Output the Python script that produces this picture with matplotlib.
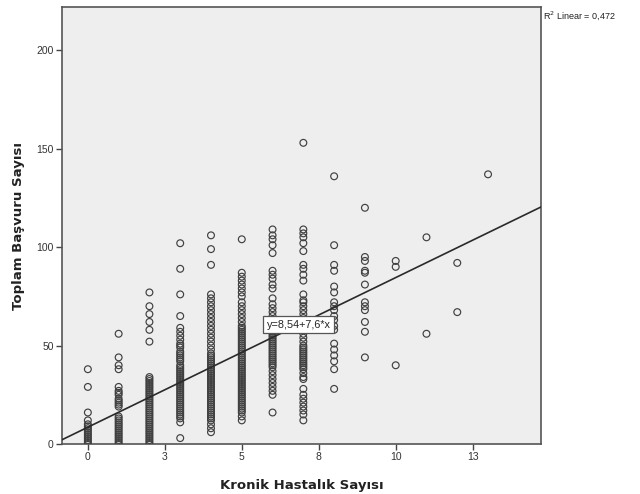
import matplotlib
matplotlib.use("Agg")
import matplotlib.pyplot as plt
import numpy as np

# ---- data ----
col0 = [38, 29, 16, 12, 10, 9, 8, 7, 6, 5, 4, 3, 2, 1, 0]
col1 = [56, 44, 40, 38, 29, 27, 26, 25, 23, 22, 21, 20, 19, 14, 13, 12, 11, 10, 9, 8,
        7, 6, 5, 4, 3, 2, 1, 0]
col2 = [77, 70, 66, 62, 58, 52, 34, 33, 32, 31, 30, 29, 28, 27, 26, 25, 24, 23, 22, 21,
        20, 19, 18, 17, 16, 15, 14, 13, 12, 11, 10, 9, 8, 7, 6, 5, 4, 3, 2, 1, 0]
col3 = [102, 89, 76, 65, 59, 57, 55, 53, 51, 50, 49, 47, 46, 45, 44, 43, 42, 40, 39, 38,
        37, 36, 35, 34, 33, 32, 31, 30, 29, 28, 27, 26, 25, 24, 23, 22, 21, 20, 19, 18,
        17, 16, 15, 14, 13, 11, 3]
col4 = [106, 99, 91, 76, 74, 72, 70, 68, 66, 64, 62, 60, 58, 56, 54, 52, 50, 48, 46, 45,
        44, 43, 42, 41, 40, 39, 38, 37, 36, 35, 34, 33, 32, 31, 30, 29, 28, 27, 26, 25,
        24, 23, 22, 21, 20, 19, 18, 17, 16, 15, 14, 13, 12, 10, 8, 6]
col5 = [104, 87, 85, 83, 81, 79, 77, 75, 72, 70, 68, 66, 64, 62, 60, 59, 58, 57, 56, 55,
        54, 53, 52, 51, 50, 49, 48, 47, 46, 45, 44, 43, 42, 41, 40, 39, 38, 37, 36, 35,
        34, 33, 32, 31, 30, 29, 28, 27, 26, 25, 24, 23, 22, 21, 20, 19, 18, 17, 16, 14, 12]
col6 = [109, 106, 104, 101, 97, 88, 86, 84, 81, 79, 74, 71, 69, 67, 65, 63, 61, 60, 58,
        57, 56, 55, 54, 53, 52, 51, 50, 49, 48, 47, 46, 45, 44, 43, 42, 41, 40, 39, 37,
        35, 33, 31, 29, 27, 25, 16]
col7 = [153, 109, 107, 105, 102, 98, 91, 89, 86, 83, 76, 73, 72, 70, 68, 66, 64, 62, 60,
        58, 56, 54, 52, 50, 49, 48, 47, 46, 45, 44, 43, 42, 41, 40, 39, 38, 36, 34, 33,
        28, 25, 23, 21, 19, 17, 15, 12]
col8 = [136, 101, 91, 88, 80, 77, 72, 70, 68, 65, 63, 60, 58, 51, 48, 45, 42, 38, 28]
col9 = [120, 95, 93, 88, 87, 81, 72, 70, 68, 62, 57, 44]
col10 = [93, 90, 40]
col11 = [105, 56]
col12 = [92, 67]
col13 = [137]
columns = [col0, col1, col2, col3, col4, col5, col6, col7, col8, col9,
           col10, col11, col12, col13]

intercept = 8.54
slope = 7.6
r2_text = "R$^2$ Linear = 0,472"
eq_text = "y=8,54+7,6*x"

xticks = [0, 2.5, 5, 7.5, 10, 12.5]
xticklabels = ["0", "3", "5", "8", "10", "13"]
yticks = [0, 50, 100, 150, 200]

narrow = ["Liberation Sans Narrow", "Liberation Sans"]

# ---- figure ----
fig = plt.figure(figsize=(6.4, 4.94), dpi=100)
fig.patch.set_facecolor("white")
ax = fig.add_axes([62 / 640, 1 - 444 / 494, (541 - 62) / 640, (444 - 7) / 494])
ax.set_facecolor("#eeeeee")

xs, ys = [], []
for i, col in enumerate(columns):
    xs.extend([i] * len(col))
    ys.extend(col)
ax.scatter(xs, ys, s=24, facecolors="none", edgecolors="#404040",
           linewidths=0.85, zorder=3)

xlim = (-0.84, 14.72)
ax.set_xlim(*xlim)
ax.set_ylim(0, 222)
lx = np.array(xlim)
ax.plot(lx, intercept + slope * lx, color="#2a2a2a", lw=1.2, zorder=4)

# equation label
xe = 6.85
ax.text(xe, intercept + slope * xe, eq_text, ha="center", va="center",
        fontsize=7.8, family=narrow, color="#222222", zorder=6,
        bbox=dict(boxstyle="square,pad=0.3", fc="white", ec="#555555", lw=0.9))

fig.text(543 / 640, 1 - 16 / 494, r2_text, fontsize=6.5, ha="left", va="center",
         family=narrow, color="#222222")

ax.set_xticks(xticks)
ax.set_xticklabels(xticklabels)
ax.set_yticks(yticks)
ax.tick_params(axis="both", direction="out", length=4, width=1, color="#444444",
               labelsize=7.5, labelcolor="#333333", pad=2)
for lab in ax.get_xticklabels() + ax.get_yticklabels():
    lab.set_family(narrow)

for sp in ax.spines.values():
    sp.set_color("#555555")
    sp.set_linewidth(1.2)

ax.set_xlabel("Kronik Hastalık Sayısı", fontsize=9.5, fontweight="bold",
              color="#222222", labelpad=12)
ax.set_ylabel("Toplam Başvuru Sayısı", fontsize=9.5, fontweight="bold",
              color="#222222", labelpad=8)

fig.savefig("out.png", dpi=100)
